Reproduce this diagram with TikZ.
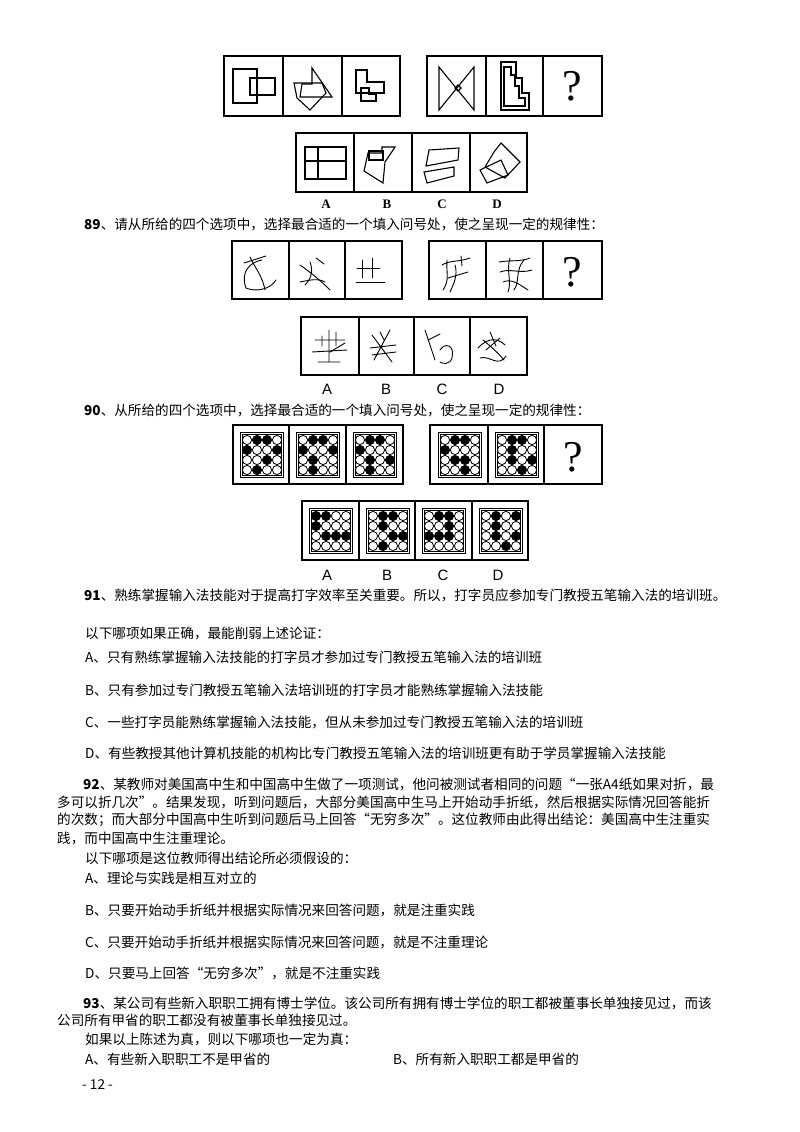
\documentclass[tikz,border=0pt]{standalone}
\usepackage{fontspec}
\setmainfont{Liberation Serif}
\newfontfamily\cjk{Noto Sans CJK SC}
\newfontfamily\lsans{Liberation Sans}
\begin{document}
\begin{tikzpicture}[x=1pt,y=-1pt,
  cellbox/.style={draw,line width=1.3pt},
  fig/.style={line width=1.1pt,line join=miter},
  scrib/.style={line width=0.9pt,line cap=round},
  txt/.style={anchor=west,inner sep=0pt,font=\cjk\fontsize{13.6}{14}\selectfont},
  lab/.style={inner sep=0pt,font=\lsans\fontsize{15}{15}\selectfont},
  labs/.style={inner sep=0pt,font=\bfseries\fontsize{13}{13}\selectfont},
  qm/.style={inner sep=0pt,font=\fontsize{44}{44}\selectfont},
  wd/.style={draw,fill=white,line width=0.8pt},
  bd/.style={draw,fill=black,line width=0.8pt}]
\useasboundingbox (0,0) rectangle (800,1132);
\fill[white] (0,0) rectangle (800,1132);

% ---------- Figure 88 ----------
\draw[cellbox] (224,56) rectangle (400,116);
\draw[cellbox] (283,56)--(283,116) (342,56)--(342,116);
\draw[cellbox] (427,56) rectangle (602,116);
\draw[cellbox] (486,56)--(486,116) (543,56)--(543,116);
\draw[fig] (233,69) rectangle (257,103);
\draw[fig] (250,78) rectangle (275,95);
\draw[fig] (312,68)--(332,97)--(300,97)--(302,84)--(312,84)--cycle;
\draw[fig] (294,83)--(322,83)--(326,93)--(310,110)--(297,98)--cycle;
\draw[fig] (356,70)--(367,70)--(367,82)--(384,82)--(384,93)--(356,93)--cycle;
\draw[fig] (361,88)--(369,88)--(369,94)--(376,94)--(376,101)--(361,101)--cycle;
\draw[fig] (439,67)--(439,110)--(474,67)--(474,110)--cycle;
\draw[fig] (455,88)--(458,85)--(461,88)--(458,91)--cycle;
\draw[fig] (501,62)--(516,62)--(516,78)--(522,78)--(522,93)--(529,93)--(529,110)--(501,110)--cycle;
\draw[fig] (504,67)--(511,67)--(511,75)--(515,75)--(515,86)--(519,86)--(519,98)--(525,98)--(525,106)--(504,106)--cycle;
\node[qm] (q88) at (572,86) {?};
\draw[cellbox] (296,133) rectangle (527,192);
\draw[cellbox] (354,133)--(354,192) (412,133)--(412,192) (470,133)--(470,192);
\draw[fig] (305,147) rectangle (346,179);
\draw[fig] (318,147)--(318,179) (305,161)--(346,161);
\draw[fig] (368,153)--(382,153)--(382,147)--(395,147)--(385,162)--(383,183)--(364,171)--cycle;
\draw[fig] (369,151)--(383,151)--(383,160)--(369,160)--cycle;
\draw[fig] (429,150)--(459,148)--(458,160)--(426,166)--cycle;
\draw[fig] (424,172)--(454,167)--(454,176)--(427,183)--cycle;
\draw[fig] (494,152)--(501,143)--(520,162)--(505,178)--(485,167)--cycle;
\draw[fig] (480,170)--(501,160)--(508,175)--(487,183)--cycle;
\node[labs] (l88a) at (326,204) {A};
\node[labs] (l88b) at (387,204) {B};
\node[labs] (l88c) at (442,204) {C};
\node[labs] (l88d) at (497,204) {D};

\node[txt] (t89) at (84,224) {\textbf{89}、请从所给的四个选项中，选择最合适的一个填入问号处，使之呈现一定的规律性：};

% ---------- Figure 89 ----------
\draw[cellbox] (232,241) rectangle (402,299);
\draw[cellbox] (289,241)--(289,299) (345,241)--(345,299);
\draw[cellbox] (429,241) rectangle (602,299);
\draw[cellbox] (486,241)--(486,299) (543,241)--(543,299);
\draw[scrib] (250,257) .. controls (255,268) and (262,275) .. (265,290);
\draw[scrib] (262,260) .. controls (250,262) and (240,272) .. (246,288) .. controls (255,292) and (270,290) .. (276,280);
\draw[scrib] (244,263)--(266,256);
\draw[scrib] (300,265) .. controls (310,272) and (320,280) .. (330,290);
\draw[scrib] (310,262) .. controls (313,270) and (312,278) .. (305,285);
\draw[scrib] (316,258)--(324,264);
\draw[scrib] (300,282) .. controls (310,280) and (318,278) .. (325,282);
\draw[scrib] (362,260)--(362,278) (372,258)--(372,278) (357,268)--(380,268) (356,282)--(385,282);
\draw[scrib] (442,265) .. controls (450,260) and (460,262) .. (470,258);
\draw[scrib] (447,260) .. controls (446,272) and (450,280) .. (443,290);
\draw[scrib] (455,265) .. controls (458,275) and (454,283) .. (450,292);
\draw[scrib] (461,256)--(462,266) (448,278)--(468,272);
\draw[scrib] (499,262) .. controls (510,260) and (520,262) .. (530,258);
\draw[scrib] (500,272) .. controls (510,268) and (520,274) .. (532,270);
\draw[scrib] (503,282) .. controls (512,278) and (520,285) .. (528,290);
\draw[scrib] (510,258) .. controls (506,270) and (512,282) .. (508,292);
\draw[scrib] (524,260) .. controls (515,270) and (520,282) .. (514,290);
\node[qm] (q89) at (572,272) {?};
\draw[cellbox] (301,317) rectangle (527,375);
\draw[cellbox] (359,317)--(359,375) (414,317)--(414,375) (470,317)--(470,375);
\draw[scrib] (315,340)--(345,340) (312,352)--(347,350) (318,362)--(340,362);
\draw[scrib] (329,330)--(329,362) (322,336)--(322,346) (336,332)--(336,346) (330,352)--(345,343);
\draw[scrib] (372,335)--(392,362) (390,330)--(374,360) (370,348)--(396,345) (372,355)--(396,352) (380,332)--(384,340);
\draw[scrib] (425,330)--(435,360) (428,340)--(440,334);
\draw[scrib] (440,350) .. controls (445,342) and (455,345) .. (452,358) .. controls (450,365) and (442,364) .. (440,362);
\draw[scrib] (478,348) .. controls (490,335) and (500,340) .. (505,345);
\draw[scrib] (483,340) .. controls (495,350) and (500,355) .. (504,360);
\draw[scrib] (490,332)--(496,346) (480,358) .. controls (490,355) and (498,368) .. (506,356) (486,350)--(500,338);
\node[lab] (l89a) at (327,389) {A};
\node[lab] (l89b) at (386,389) {B};
\node[lab] (l89c) at (442,389) {C};
\node[lab] (l89d) at (499,389) {D};

\node[txt] (t90) at (84,410) {\textbf{90}、从所给的四个选项中，选择最合适的一个填入问号处，使之呈现一定的规律性：};

% ---------- Figure 90 ----------
\newcommand{\dotcell}[3]{% x0 y0 pattern (16 digits)
  \draw[line width=0.9pt] (#1+7,#2+7) rectangle (#1+50,#2+52);
  \draw[line width=0.5pt] (#1+9,#2+9) rectangle (#1+48,#2+50);
  \foreach \r/\c/\v in {#3} {
    \ifnum\v=1 \filldraw[bd] (#1+14+\c*10,#2+15+\r*10) circle (4.6);
    \else \filldraw[wd] (#1+14+\c*10,#2+15+\r*10) circle (4.6); \fi}}
\draw[cellbox] (233,425) rectangle (403,484);
\draw[cellbox] (289,425)--(289,484) (346,425)--(346,484);
\draw[cellbox] (430,425) rectangle (602,484);
\draw[cellbox] (488,425)--(488,484) (544,425)--(544,484);
\dotcell{233}{425}{0/0/0,0/1/1,0/2/1,0/3/0,1/0/1,1/1/0,1/2/0,1/3/1,2/0/0,2/1/0,2/2/1,2/3/0,3/0/0,3/1/1,3/2/0,3/3/0}
\dotcell{289}{425}{0/0/0,0/1/1,0/2/1,0/3/0,1/0/1,1/1/0,1/2/0,1/3/1,2/0/0,2/1/1,2/2/0,2/3/0,3/0/0,3/1/1,3/2/0,3/3/0}
\dotcell{346}{425}{0/0/0,0/1/1,0/2/1,0/3/0,1/0/1,1/1/0,1/2/0,1/3/0,2/0/0,2/1/1,2/2/0,2/3/1,3/0/0,3/1/1,3/2/0,3/3/0}
\dotcell{431}{425}{0/0/0,0/1/1,0/2/1,0/3/0,1/0/1,1/1/0,1/2/0,1/3/0,2/0/0,2/1/1,2/2/1,2/3/0,3/0/0,3/1/0,3/2/1,3/3/0}
\dotcell{488}{425}{0/0/0,0/1/1,0/2/1,0/3/0,1/0/0,1/1/1,1/2/0,1/3/0,2/0/0,2/1/1,2/2/0,2/3/1,3/0/0,3/1/0,3/2/1,3/3/0}
\node[qm] (q90) at (573,457) {?};
\draw[cellbox] (302,501) rectangle (528,560);
\draw[cellbox] (359,501)--(359,560) (415,501)--(415,560) (472,501)--(472,560);
\dotcell{302}{501}{0/0/1,0/1/1,0/2/0,0/3/0,1/0/1,1/1/0,1/2/0,1/3/0,2/0/0,2/1/1,2/2/1,2/3/1,3/0/0,3/1/0,3/2/0,3/3/0}
\dotcell{359}{501}{0/0/0,0/1/1,0/2/1,0/3/0,1/0/0,1/1/1,1/2/0,1/3/0,2/0/0,2/1/0,2/2/1,2/3/1,3/0/0,3/1/1,3/2/0,3/3/0}
\dotcell{415}{501}{0/0/0,0/1/1,0/2/1,0/3/0,1/0/0,1/1/0,1/2/1,1/3/0,2/0/1,2/1/1,2/2/1,2/3/0,3/0/0,3/1/0,3/2/0,3/3/0}
\dotcell{472}{501}{0/0/0,0/1/1,0/2/0,0/3/1,1/0/0,1/1/1,1/2/0,1/3/0,2/0/0,2/1/1,2/2/0,2/3/1,3/0/0,3/1/0,3/2/1,3/3/0}
\node[lab] (l90a) at (327,575) {A};
\node[lab] (l90b) at (387,575) {B};
\node[lab] (l90c) at (443,575) {C};
\node[lab] (l90d) at (498,575) {D};

% ---------- Text ----------
\node[txt] (t91) at (84,595) {\textbf{91}、熟练掌握输入法技能对于提高打字效率至关重要。所以，打字员应参加专门教授五笔输入法的培训班。};
\node[txt] (t91q) at (85,633) {以下哪项如果正确，最能削弱上述论证：};
\node[txt] (t91a) at (85,657) {A、只有熟练掌握输入法技能的打字员才参加过专门教授五笔输入法的培训班};
\node[txt] (t91b) at (85,690) {B、只有参加过专门教授五笔输入法培训班的打字员才能熟练掌握输入法技能};
\node[txt] (t91c) at (85,722) {C、一些打字员能熟练掌握输入法技能，但从未参加过专门教授五笔输入法的培训班};
\node[txt] (t91d) at (85,753) {D、有些教授其他计算机技能的机构比专门教授五笔输入法的培训班更有助于学员掌握输入法技能};

\node[txt] (t92a) at (83,784) {\textbf{92}、某教师对美国高中生和中国高中生做了一项测试，他问被测试者相同的问题“一张A4纸如果对折，最};
\node[txt] (t92b) at (57,802) {多可以折几次”。结果发现，听到问题后，大部分美国高中生马上开始动手折纸，然后根据实际情况回答能折};
\node[txt] (t92c) at (57,820) {的次数；而大部分中国高中生听到问题后马上回答“无穷多次”。这位教师由此得出结论：美国高中生注重实};
\node[txt] (t92d) at (57,838) {践，而中国高中生注重理论。};
\node[txt] (t92q) at (85,858) {以下哪项是这位教师得出结论所必须假设的：};
\node[txt] (t92oa) at (85,878) {A、理论与实践是相互对立的};
\node[txt] (t92ob) at (85,910) {B、只要开始动手折纸并根据实际情况来回答问题，就是注重实践};
\node[txt] (t92oc) at (85,942) {C、只要开始动手折纸并根据实际情况来回答问题，就是不注重理论};
\node[txt] (t92od) at (85,973) {D、只要马上回答“无穷多次”，就是不注重实践};

\node[txt] (t93a) at (83,1003) {\textbf{93}、某公司有些新入职职工拥有博士学位。该公司所有拥有博士学位的职工都被董事长单独接见过，而该};
\node[txt] (t93b) at (57,1020) {公司所有甲省的职工都没有被董事长单独接见过。};
\node[txt] (t93q) at (85,1039) {如果以上陈述为真，则以下哪项也一定为真：};
\node[txt] (t93oa) at (85,1059) {A、有些新入职职工不是甲省的};
\node[txt] (t93ob) at (393,1059) {B、所有新入职职工都是甲省的};
\node[txt] (pg) at (82,1085) {- 12 -};
\end{tikzpicture}
\end{document}
